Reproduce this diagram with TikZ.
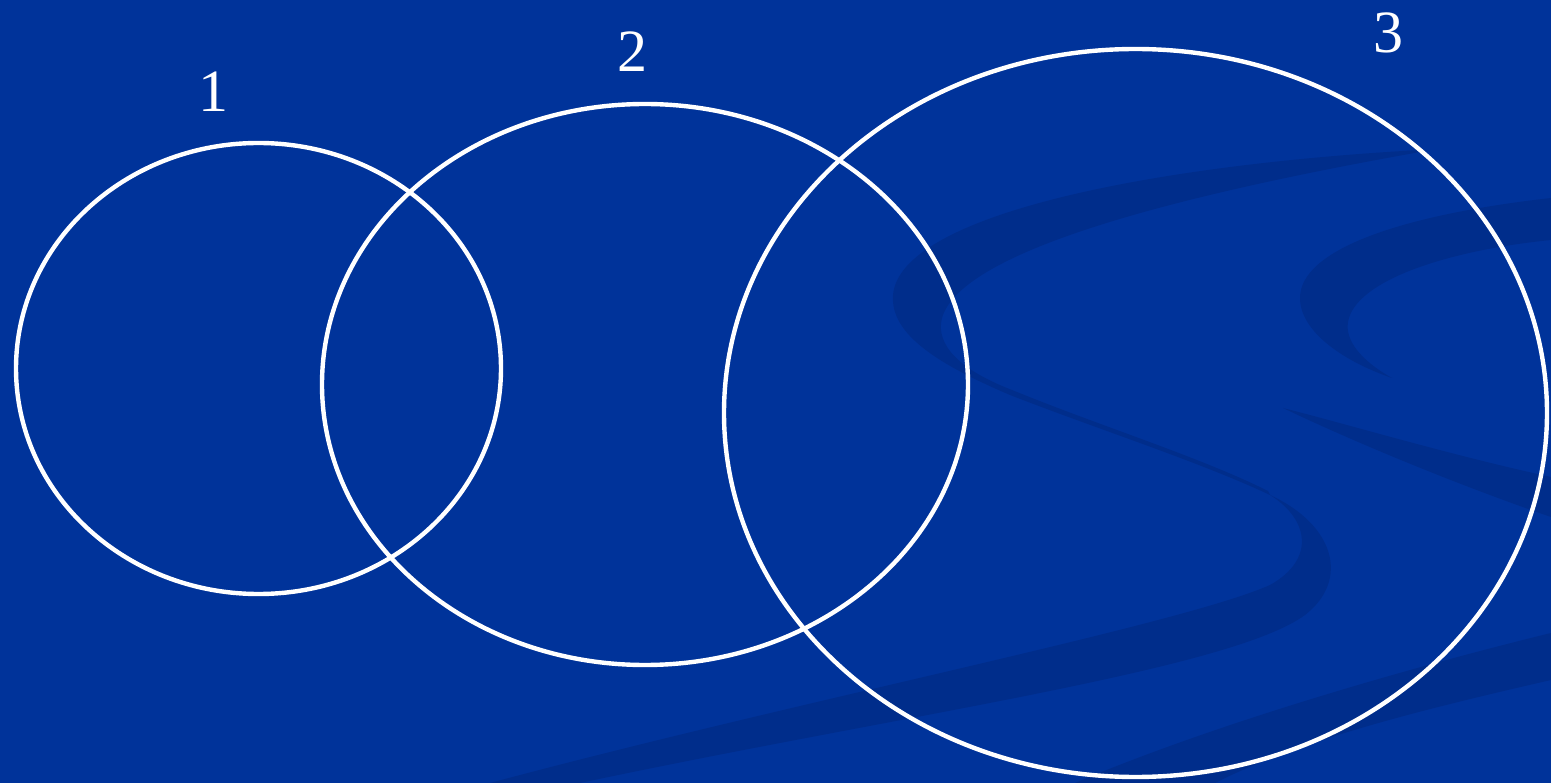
\documentclass[tikz,border=0pt]{standalone}
\usepackage{fontspec}
\setmainfont{Liberation Serif}
\definecolor{bg}{RGB}{0,51,154}
\definecolor{swirl}{RGB}{0,45,139}
\tikzset{
  ring/.style={draw=white, line width=4.4pt},
  swirlfill/.style={fill=swirl, draw=none},
  lbl/.style={text=white, anchor=base, inner sep=0pt, font=\fontsize{60}{72}\selectfont}
}
\begin{document}
\begin{tikzpicture}[x=1pt, y=-1pt]
  \useasboundingbox (0,0) rectangle (1551,783);
  \fill[bg] (0,0) rectangle (1551,783);
  \begin{scope}
    \clip (0,0) rectangle (1551,783);
    % main S swirl, upper part
    \path[swirlfill] (1420,150) .. controls (1150,165) and (900,215) .. (893,295)
      .. controls (890,335) and (940,365) .. (1010,395)
      .. controls (1100,430) and (1200,462) .. (1270,495)
      -- (1268,491) .. controls (1200,457) and (1100,426) .. (1012,390)
      .. controls (960,370) and (935,345) .. (942,318)
      .. controls (960,255) and (1150,200) .. (1420,152) -- cycle;
    % main S swirl, lower part
    \path[swirlfill] (1270,495) .. controls (1335,525) and (1350,580) .. (1305,615)
      .. controls (1230,670) and (900,715) .. (580,783)
      -- (490,783) .. controls (800,700) and (1180,625) .. (1270,585)
      .. controls (1315,560) and (1310,520) .. (1270,495) -- cycle;
    % right swirl
    \path[swirlfill] (1551,198) .. controls (1400,215) and (1300,250) .. (1300,298)
      .. controls (1300,330) and (1340,360) .. (1392,378)
      .. controls (1360,360) and (1345,340) .. (1348,322)
      .. controls (1355,280) and (1450,250) .. (1551,240) -- cycle;
    \path[swirlfill] (1283,408) .. controls (1350,425) and (1450,455) .. (1551,477)
      -- (1551,517) .. controls (1450,482) and (1350,440) .. (1283,408) -- cycle;
    % bottom right band
    \path[swirlfill] (1551,633) .. controls (1380,675) and (1200,730) .. (1075,783)
      -- (1215,783) .. controls (1300,740) and (1420,710) .. (1551,680) -- cycle;
  \end{scope}
  % ellipses
  \coordinate (c1) at (258.5,368.5);
  \coordinate (c2) at (645,384.5);
  \coordinate (c3) at (1135.5,413);
  \draw[ring] (c1) ellipse [x radius=242.5, y radius=225.5];
  \draw[ring] (c2) ellipse [x radius=323, y radius=280.5];
  \draw[ring] (c3) ellipse [x radius=411.5, y radius=364];
  % labels
  \node[lbl] (l1) at (213,112) {1};
  \node[lbl] (l2) at (632,72) {2};
  \node[lbl] (l3) at (1388,53) {3};
\end{tikzpicture}
\end{document}
